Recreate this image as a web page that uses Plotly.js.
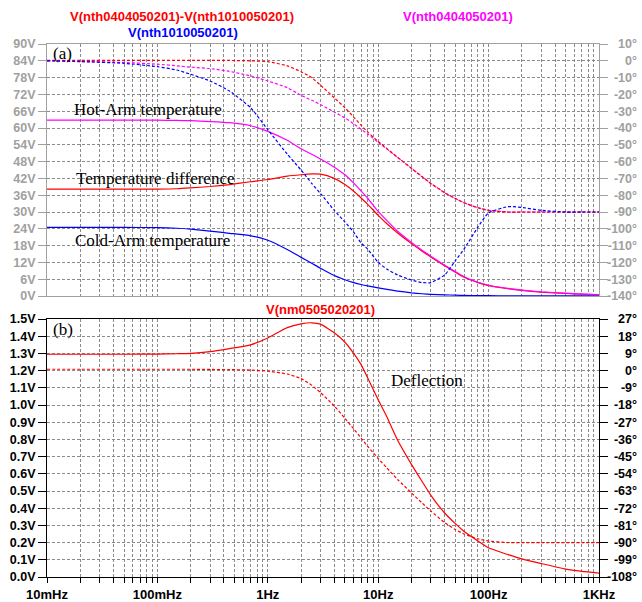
<!DOCTYPE html>
<html>
<head>
<meta charset="utf-8">
<script src="https://cdn.plot.ly/plotly-3.0.1.min.js"></script>
<style>html,body{margin:0;padding:0;background:#fff;}</style>
</head>
<body>
<div id="chart" style="width:642px;height:602px;"></div>
<script>
// ---- data ----
const freqHz = [0.01,0.02,0.05,0.1,0.15,0.2,0.3,0.45,0.7,1,1.5,2,2.5,3,4,5,6,7,8,10,12,15,20,25,30,40,50,60,80,100,150,200,300,500,700,1000];
// top panel, magnitudes (V)
const hotArmV  = [62.8,62.8,62.8,62.8,62.7,62.6,62.3,61.9,60.8,58.8,55.6,52.6,50.6,48.9,46.0,43.3,40.3,37.5,35.0,30.2,26.9,23.1,19.1,16.3,14.2,11.0,8.7,6.9,4.9,3.85,2.7,2.1,1.5,1.0,0.7,0.5];
const diffV    = [38.2,38.2,38.2,38.2,38.3,38.6,39.1,39.8,40.8,41.6,42.8,43.3,43.6,43.5,42.0,39.8,37.4,35.0,32.8,28.8,25.8,22.5,18.7,16.0,13.9,10.8,8.5,6.7,4.8,3.7,2.6,2.0,1.4,0.9,0.65,0.45];
const coldArmV = [24.5,24.5,24.5,24.4,24.2,23.9,23.2,22.4,21.5,19.9,16.6,13.8,11.7,9.9,7.3,5.8,4.8,4.1,3.6,2.9,2.35,1.75,1.15,0.8,0.6,0.4,0.3,0.2,0.15,0.1,0.07,0.05,0.04,0.03,0.02,0.02];
// top panel, phases (deg)
const hotArmPh  = [0,-0.3,-1,-2,-3,-3.8,-4.6,-6.3,-9,-12,-16,-20.5,-23.5,-26,-30.5,-34,-37.5,-40.8,-43.5,-48.5,-52.5,-57.5,-64,-69,-73,-78.5,-82,-84.5,-87.5,-89,-90,-90,-90,-90,-90,-90];
const diffPh    = [0.3,0.3,0.3,0.3,0.3,0.3,0.3,0.2,0,-0.5,-3,-6.5,-10,-14.5,-22,-28,-33.5,-38.3,-42.3,-48,-52.3,-57.5,-64,-69,-73,-78.5,-82,-84.5,-87.5,-89,-90,-90,-90,-90,-90,-90];
const coldArmPh = [0,-0.5,-1.5,-3.5,-5.5,-8,-12,-18,-28,-41,-55.5,-65,-73,-79,-89,-96,-102,-108.5,-112,-120,-124,-127.5,-130.5,-132,-132,-127.5,-119,-112,-99,-90.5,-86.8,-87.3,-89,-90,-90,-90];
// bottom panel
const deflV  = [1.295,1.295,1.295,1.296,1.298,1.30,1.31,1.328,1.35,1.39,1.45,1.472,1.478,1.47,1.42,1.365,1.30,1.235,1.16,1.03,0.93,0.795,0.655,0.555,0.475,0.372,0.31,0.265,0.21,0.17,0.13,0.105,0.078,0.046,0.033,0.023];
const deflPh = [0.7,0.7,0.7,0.7,0.7,0.7,0.6,0.5,0.3,-0.3,-1.8,-4.2,-7.7,-11.5,-18.5,-25,-30.5,-35.3,-39.5,-46,-51,-57,-64,-69.3,-73.5,-79.5,-83.2,-85.5,-88,-89.2,-90,-90,-90,-90,-90,-90];

// tick labels
const xTickVals = [0.01,0.1,1,10,100,1000];
const xTickText = ["10mHz","100mHz","1Hz","10Hz","100Hz","1KHz"];
const topVVals = [0,6,12,18,24,30,36,42,48,54,60,66,72,78,84,90];
const topVText = ["0V","6V","12V","18V","24V","30V","36V","42V","48V","54V","60V","66V","72V","78V","84V","90V"];
const topPhVals = [-140,-130,-120,-110,-100,-90,-80,-70,-60,-50,-40,-30,-20,-10,0,10];
const topPhText = ["-140°","-130°","-120°","-110°","-100°","-90°","-80°","-70°","-60°","-50°","-40°","-30°","-20°","-10°","0°","10°"];
const botVVals = [0,0.1,0.2,0.3,0.4,0.5,0.6,0.7,0.8,0.9,1.0,1.1,1.2,1.3,1.4,1.5];
const botVText = ["0.0V","0.1V","0.2V","0.3V","0.4V","0.5V","0.6V","0.7V","0.8V","0.9V","1.0V","1.1V","1.2V","1.3V","1.4V","1.5V"];
const botPhVals = [-108,-99,-90,-81,-72,-63,-54,-45,-36,-27,-18,-9,0,9,18,27];
const botPhText = ["-108°","-99°","-90°","-81°","-72°","-63°","-54°","-45°","-36°","-27°","-18°","-9°","0°","9°","18°","27°"];

// ---- styling / layout ----
const RED = '#ff0000', MAG = '#ff00ff', BLUE = '#0000ff';
const GRID = '#8a8a8a', GRAYTXT = '#a0a0a0';
const W = 642, H = 602, ML = 47, MR = 5, MT = 44, MB = 25;
const PW = W - ML - MR, PH = H - MT - MB;
const xEnd = 552 / PW;
const px = x => (x - ML) / PW;
const py = y => (H - MB - y) / PH;

const minorVals = [];
[0.01,0.1,1,10,100].forEach(d => { for (let k = 2; k <= 9; k++) minorVals.push(k * d); });

const solid = c => ({color: c, width: 1.2, shape: 'spline', smoothing: 0.5});
const dashed = c => ({color: c, width: 1.2, dash: '3px,2px', shape: 'spline', smoothing: 0.5});
const hidden = {width: 0, color: 'rgba(0,0,0,0)'};

const traces = [
  {x: freqHz, y: hotArmPh, xaxis: 'x', yaxis: 'y2', mode: 'lines', line: dashed(MAG)},
  {x: freqHz, y: diffPh, xaxis: 'x', yaxis: 'y2', mode: 'lines', line: dashed(RED)},
  {x: freqHz, y: coldArmPh, xaxis: 'x', yaxis: 'y2', mode: 'lines', line: dashed(BLUE)},
  {x: freqHz, y: coldArmV, xaxis: 'x', yaxis: 'y', mode: 'lines', line: solid(BLUE)},
  {x: freqHz, y: diffV, xaxis: 'x', yaxis: 'y', mode: 'lines', line: solid(RED)},
  {x: freqHz, y: hotArmV, xaxis: 'x', yaxis: 'y', mode: 'lines', line: solid(MAG)},
  {x: freqHz, y: deflPh, xaxis: 'x2', yaxis: 'y4', mode: 'lines', line: dashed(RED)},
  {x: freqHz, y: deflV, xaxis: 'x2', yaxis: 'y3', mode: 'lines', line: solid(RED)},
  // carriers for the right-aligned phase label axes (drawn invisibly)
  {x: freqHz, y: diffPh, xaxis: 'x', yaxis: 'y5', mode: 'lines', line: hidden, opacity: 0, hoverinfo: 'skip'},
  {x: freqHz, y: deflPh, xaxis: 'x2', yaxis: 'y6', mode: 'lines', line: hidden, opacity: 0, hoverinfo: 'skip'}
];

const tickFont = c => ({family: 'Liberation Sans, Arial, sans-serif', size: 12.5, color: c, weight: 'bold'});
const topDom = [1 - 252 / PH, 1];
const botDom = [0, 1 - 275 / PH];

const xCommon = {
  type: 'log', range: [-2, 3], domain: [0, xEnd],
  tickmode: 'array', tickvals: xTickVals, ticktext: xTickText,
  showgrid: true, gridcolor: GRID, griddash: '3px,2px', gridwidth: 1,
  minor: {tickmode: 'array', tickvals: minorVals, showgrid: true, gridcolor: GRID, griddash: '3px,2px', gridwidth: 1},
  showline: true, mirror: true, zeroline: false
};

const layout = {
  width: W, height: H,
  margin: {l: ML, r: MR, t: MT, b: MB, pad: 0},
  paper_bgcolor: '#fff', plot_bgcolor: '#fff',
  showlegend: false,
  xaxis: Object.assign({}, xCommon, {anchor: 'y', showticklabels: false, ticks: '', linecolor: GRAYTXT, linewidth: 1}),
  xaxis2: Object.assign({}, xCommon, {anchor: 'y3', matches: 'x', showticklabels: true, ticks: 'outside', ticklen: 5, tickcolor: '#000',
    minor: Object.assign({}, xCommon.minor, {ticks: 'outside', ticklen: 5, tickcolor: '#000'}),
    linecolor: '#000', linewidth: 1,
    tickfont: {family: 'Liberation Sans, Arial, sans-serif', size: 13, color: '#000', weight: 'bold'}}),
  yaxis: {domain: topDom, anchor: 'x', range: [0, 90], tickmode: 'array', tickvals: topVVals, ticktext: topVText,
    ticks: 'outside', ticklen: 8, tickcolor: GRAYTXT, tickfont: tickFont(GRAYTXT),
    showgrid: true, gridcolor: GRID, griddash: '3px,2px', showline: true, mirror: true, linecolor: GRAYTXT, zeroline: false},
  yaxis2: {overlaying: 'y', anchor: 'x', side: 'right', range: [-140, 10], tickmode: 'array', tickvals: topPhVals,
    ticks: 'outside', ticklen: 8, tickcolor: GRAYTXT, showticklabels: false, showgrid: false, zeroline: false, showline: false},
  yaxis5: {overlaying: 'y', anchor: 'free', position: 1, side: 'left', range: [-140, 10], tickmode: 'array',
    tickvals: topPhVals, ticktext: topPhText, ticks: '', tickfont: tickFont(GRAYTXT), showgrid: false, zeroline: false, showline: false},
  yaxis3: {domain: botDom, anchor: 'x2', range: [0, 1.5], tickmode: 'array', tickvals: botVVals, ticktext: botVText,
    ticks: 'outside', ticklen: 8, tickcolor: '#000', tickfont: tickFont('#000'),
    showgrid: true, gridcolor: GRID, griddash: '3px,2px', showline: true, mirror: true, linecolor: '#000', zeroline: false},
  yaxis4: {overlaying: 'y3', anchor: 'x2', side: 'right', range: [-108, 27], tickmode: 'array', tickvals: botPhVals,
    ticks: 'outside', ticklen: 8, tickcolor: '#000', showticklabels: false, showgrid: false, zeroline: false, showline: false},
  yaxis6: {overlaying: 'y3', anchor: 'free', position: 1, side: 'left', range: [-108, 27], tickmode: 'array',
    tickvals: botPhVals, ticktext: botPhText, ticks: '', tickfont: tickFont('#000'), showgrid: false, zeroline: false, showline: false},
  annotations: []
};

const titleFont = c => ({family: 'Liberation Sans, Arial, sans-serif', size: 13, color: c, weight: 'bold'});
const serif = {family: 'Liberation Serif, Times New Roman, serif', size: 17, color: '#000'};
function ann(text, x, y, font, xanchor) {
  layout.annotations.push({text: text, xref: 'paper', yref: 'paper', x: px(x), y: py(y), xanchor: xanchor || 'center',
    yanchor: 'middle', showarrow: false, font: font, borderpad: 0});
}
ann('V(nth0404050201)-V(nth1010050201)', 182, 16, titleFont(RED));
ann('V(nth1010050201)', 183, 32, titleFont(BLUE));
ann('V(nth0404050201)', 458, 16, titleFont(MAG));
ann('V(nm0505020201)', 320, 309, titleFont(RED));
ann('(a)', 52, 53, serif, 'left');
ann('(b)', 52, 329, serif, 'left');
ann('Hot-Arm temperature', 73, 109, serif, 'left');
ann('Temperature difference', 75, 178, serif, 'left');
ann('Cold-Arm temperature', 74, 240, serif, 'left');
ann('Deflection', 390, 380, serif, 'left');

Plotly.newPlot('chart', traces, layout, {staticPlot: true, displayModeBar: false});
</script>
</body>
</html>
